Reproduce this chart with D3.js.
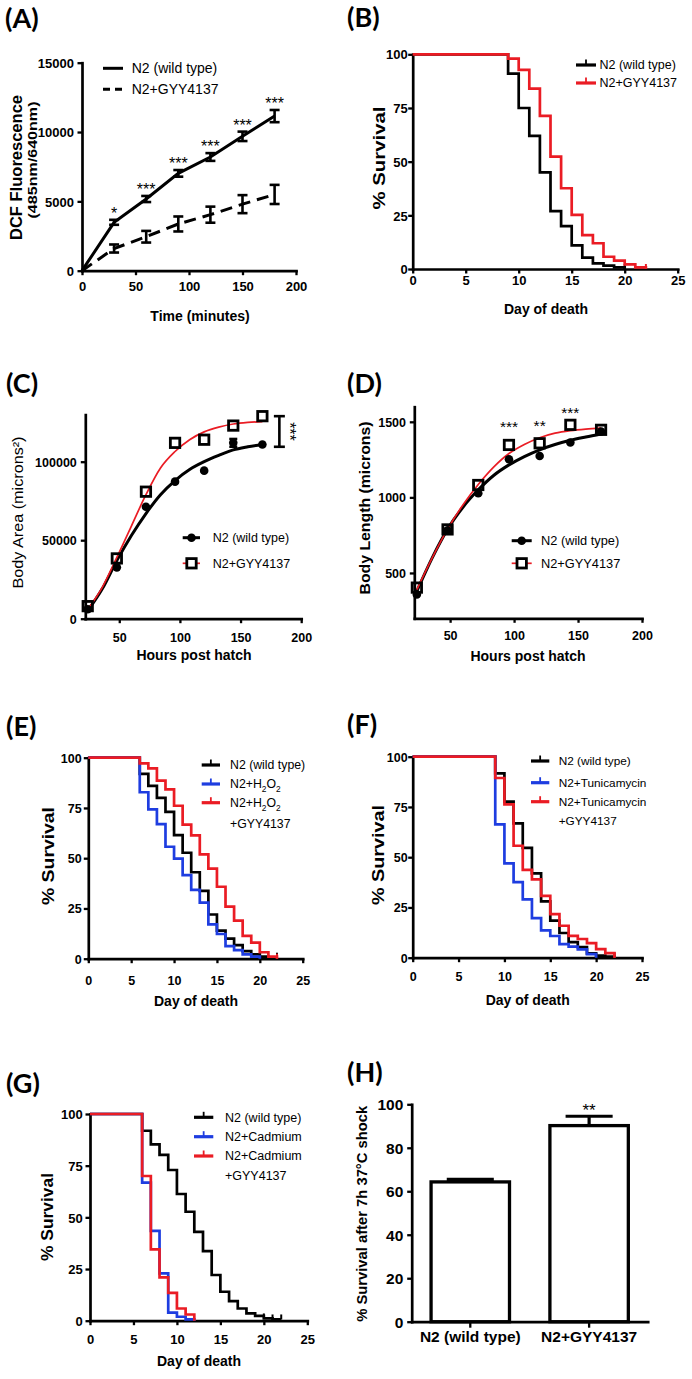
<!DOCTYPE html>
<html><head><meta charset="utf-8">
<script src="https://cdn.jsdelivr.net/npm/d3@7"></script>
<style>body{margin:0;background:#fff;}svg{display:block;}</style>
</head><body>
<script>
// ================= DATA =================
// (A) DCF fluorescence
const timeMinutes = [0,30,60,90,120,150,180];
const dcfN2 = [0,3490,5170,7020,8200,9690,11150];
const dcfN2Err = [0,180,220,240,280,340,440];
const dcfGYY = [0,1600,2450,3370,4040,4800,5500];
const dcfGYYErr = [0,290,420,540,580,650,690];
const dcfStars = ["","*","***","***","***","***","***"];
const dcfXTicks = [0,50,100,150,200];
const dcfYTicks = [0,5000,10000,15000];

// (B) lifespan
const bDaysN2 = [0,9,10,11,12,13,14,15,16,17,18,19,20];
const bSurvN2 = [100,91,75,62,45,27,20,11,5.3,2.6,1.6,0.8,0];
const bDaysGYY = [0,9,10,11,12,13,14,15,16,17,18,19,20,21,22];
const bSurvGYY = [100,98,92.7,84,71.3,52.3,37.6,25.2,15.8,12,5.7,3.9,2.2,0.8,0];
const bCensN2 = [20];
const bCensGYY = [22];

// shared survival axes
const survXTicks = [0,5,10,15,20,25];
const survYTicks = [0,25,50,75,100];

// (C) body area, (D) body length
const hoursPH = [24,48,72,96,120,144,168];
const areaN2 = [6000,32700,71300,87300,94300,112000,111000];
const areaN2Err = [0,0,0,0,0,2500,0];
const areaGYY = [8000,38400,80900,112000,114000,123000,129000];
const fitHours = [24,36,48,60,72,84,96,108,120,132,144,156,168];
const areaFitN2 = [5000,19000,37000,53000,67000,79000,88000,95000,100000,104000,107500,109500,111000];
const areaFitGYY = [6000,20000,39000,59000,79000,96000,106500,114000,119000,122000,124000,125000,125500];
const areaBracket = [109500,129000];
const areaBracketHour = 182;
const areaXTicks = [50,100,150,200];
const areaYTicks = [0,50000,100000];

const lenN2 = [358,783,1027,1252,1274,1363,1436];
const lenGYY = [403,788,1082,1347,1358,1480,1447];
const lenFitN2 = [380,600,790,935,1050,1145,1215,1270,1315,1350,1378,1400,1420];
const lenFitGYY = [390,600,790,950,1085,1200,1290,1350,1395,1425,1442,1452,1458];
const lenStarHours = [96,120,144];
const lenStarVals = [1435,1440,1525];
const lenStars = ["***","**","***"];
const lenXTicks = [50,100,150,200];
const lenYTicks = [500,1000,1500];

// (E) H2O2
const eDaysN2 = [0,6,7,8,9,10,11,12,13,14,15,16,17,18,19,20,21,22];
const eSurvN2 = [100,92,86,80,73,61.5,52.7,43,33.7,22,14,10,6.8,3.8,2.2,1,0.5,0.5];
const eDaysH2O2 = [0,6,7,8,9,10,11,12,13,14,15,16,17,18,19,20];
const eSurvH2O2 = [100,82.8,74.3,67,55.7,49.8,41.6,34.2,27.9,17.1,12.3,6.3,4.3,2.2,1,0];
const eDaysH2O2GYY = [0,6,7,8,9,10,11,12,13,14,15,16,17,18,19,20,21,22];
const eSurvH2O2GYY = [100,97.2,94.7,88.6,84.2,76.1,66.7,61.4,51.9,44.8,35.8,25.9,18.9,11.4,8,3.2,1,0];

// (F) tunicamycin
const fDaysN2 = [0,9,10,11,12,13,14,15,16,17,18,19,20,21,22];
const fSurvN2 = [100,91.7,77.6,66.8,54.6,42,28,18.4,12.3,7.7,5.3,2.2,1,0.5,0];
const fDaysTun = [0,9,10,11,12,13,14,15,16,17,18,19,20];
const fSurvTun = [100,66.3,46.9,37.6,29,19.7,13.6,10.8,6.8,5.5,4.1,1.8,0];
const fDaysTunGYY = [0,9,10,11,12,13,14,15,16,17,18,19,20,21,22];
const fSurvTunGYY = [100,89.4,76.3,55.7,43.7,39,30.8,21.7,15.9,10.9,9.3,7.3,4.3,2.3,0];

// (G) cadmium
const gDaysN2 = [0,6,7,8,9,10,11,12,13,14,15,16,17,18,19,20,21,22];
const gSurvN2 = [100,91.9,85.3,80.2,72.9,61.3,52.7,43,33.7,22.1,14,9.5,5.9,3.5,2.3,1.1,0.6,0.6];
const gDaysCd = [0,6,7,8,9,10,11,12];
const gSurvCd = [100,66.8,43.5,22.9,3.9,1.9,0.6,0];
const gDaysCdGYY = [0,6,7,8,9,10,11,12];
const gSurvCdGYY = [100,70,34.5,21,13.5,5.9,3,0];

// (H) heat shock
const hCategories = ["N2 (wild type)","N2+GYY4137"];
const hValues = [64.3,90.2];
const hErrors = [1.2,4.3];
const hYTicks = [0,20,40,60,80,100];

// ================= DRAWING =================
const FONT = "'Liberation Sans', Arial, Helvetica, sans-serif";
const LFONT = "Lato, 'Open Sans', sans-serif";
const RED = "#ea1c24", BLUE = "#1e3de0", BLACK = "#000";
const AXW = 2.7;

const svg = d3.select("body").append("svg").attr("width",692).attr("height",1379);
svg.append("rect").attr("width",692).attr("height",1379).attr("fill","#fff");

function label(g, s, x, y, o={}) {
  const t = g.append("text").attr("x",x).attr("y",y)
    .style("font-family", o.family||FONT)
    .style("font-size", (o.fs||13)+"px")
    .style("font-weight", o.bold?"bold":"normal")
    .style("fill", o.fill||"#000")
    .attr("text-anchor", o.anchor||"start");
  if (o.dy) t.attr("dy", o.dy);
  if (o.len) t.attr("textLength", o.len).attr("lengthAdjust","spacingAndGlyphs");
  t.text(s);
  return t;
}
function vlabel(g, s, cx, cy, o) {
  const gg = g.append("g").attr("transform", `translate(${cx + 0.32*o.fs},${cy}) rotate(-90)`);
  return label(gg, s, 0, 0, Object.assign({anchor:"middle"}, o));
}
function hTitle(g, s, cx, cy, fs) { return label(g, s, cx, cy + 0.3*fs, {anchor:"middle", fs, bold:true}); }
function panelLetter(s, x, y) { label(svg, s, x, y, {family:LFONT, fs:27, bold:true}); }

function axes(g, x, y, c) {
  const xa = d3.axisBottom(x).tickSize(c.xTick||4.5).tickSizeOuter(0);
  if (c.xTicks) xa.tickValues(c.xTicks).tickFormat(d3.format("d"));
  const gx = g.append("g").attr("transform",`translate(0,${y.range()[0]})`).call(xa);
  gx.selectAll(".tick text").attr("y", c.xDy).attr("dy","0.36em")
    .style("font-family",FONT).style("font-size",(c.fsX||c.fs)+"px").style("font-weight","bold").style("fill","#000");
  const ya = d3.axisLeft(y).tickValues(c.yTicks).tickFormat(d3.format("d")).tickSize(4.5).tickSizeOuter(0);
  const gy = g.append("g").attr("transform",`translate(${x.range()[0]},0)`).call(ya);
  gy.selectAll(".tick text").attr("x", -c.yGap).attr("dy","0.36em")
    .style("font-family",FONT).style("font-size",(c.fsY||c.fs)+"px").style("font-weight","bold").style("fill","#000");
  [gx,gy].forEach(a => {
    a.select(".domain").attr("stroke","#000").attr("stroke-width",AXW).attr("stroke-linecap","square");
    a.selectAll(".tick line").attr("stroke","#000").attr("stroke-width",2.3);
  });
}

function km(g, x, y, series) {
  const line = d3.line().curve(d3.curveStepAfter);
  series.forEach(s => {
    const pts = s.days.map((d,i) => [x(d), y(s.surv[i])]);
    g.append("path").attr("d", line(pts)).attr("fill","none").attr("stroke", s.color).attr("stroke-width",2.7);
    (s.cens||[]).forEach(d => {
      let v = s.surv[0];
      s.days.forEach((dd,i) => { if (dd <= d) v = s.surv[i]; });
      g.append("line").attr("x1",x(d)).attr("x2",x(d)).attr("y1",y(v)).attr("y2",y(v)-5)
        .attr("stroke",s.color).attr("stroke-width",2);
    });
  });
}

function rich(g, parts, x, y, fs) {
  const t = g.append("text").attr("x",x).attr("y",y).attr("dy","0.35em")
    .style("font-family",FONT).style("font-size",fs+"px").style("fill","#000");
  let prevSub = false;
  parts.forEach(p => {
    const ts = t.append("tspan").text(p[0]);
    if (p[1] === "sub") { ts.style("font-size",(fs*0.68)+"px").attr("dy", fs*0.3); prevSub = true; }
    else if (prevSub) { ts.attr("dy", -fs*0.3); prevSub = false; }
  });
  return t;
}

function kmLegend(g, x1, x2, tx, ys, colors, texts, fs) {
  colors.forEach((c,i) => {
    g.append("line").attr("x1",x1).attr("x2",x2).attr("y1",ys[i]).attr("y2",ys[i]).attr("stroke",c).attr("stroke-width",3.2);
    g.append("line").attr("x1",(x1+x2)/2).attr("x2",(x1+x2)/2).attr("y1",ys[i]).attr("y2",ys[i]-5.5).attr("stroke",c).attr("stroke-width",1.8);
  });
  texts.forEach((t,i) => {
    if (Array.isArray(t)) rich(g, t, tx, ys[i], fs);
    else label(g, t, tx, ys[i], {fs, dy:"0.35em"});
  });
}

// ---------- (A) ----------
panelLetter("(A)", 5, 28);
{
  const g = svg.append("g");
  const x = d3.scaleLinear([0,200],[82,296]);
  const y = d3.scaleLinear([0,15000],[270.7,62.7]);
  axes(g, x, y, {xTicks:dcfXTicks, yTicks:dcfYTicks, fs:13, xDy:16, yGap:8});
  const line = d3.line().x((d,i) => x(timeMinutes[i])).y(d => y(d));
  g.append("path").datum(dcfGYY).attr("d",line).attr("fill","none").attr("stroke","#000").attr("stroke-width",3).attr("stroke-dasharray","12,7");
  g.append("path").datum(dcfN2).attr("d",line).attr("fill","none").attr("stroke","#000").attr("stroke-width",3);
  [[dcfN2,dcfN2Err],[dcfGYY,dcfGYYErr]].forEach(([v,e]) => {
    v.forEach((d,i) => {
      if (!e[i]) return;
      const xx = x(timeMinutes[i]);
      g.append("line").attr("x1",xx).attr("x2",xx).attr("y1",y(d-e[i])).attr("y2",y(d+e[i])).attr("stroke","#000").attr("stroke-width",2.6);
      [d-e[i], d+e[i]].forEach(b => g.append("line").attr("x1",xx-5).attr("x2",xx+5).attr("y1",y(b)).attr("y2",y(b)).attr("stroke","#000").attr("stroke-width",2.6));
    });
  });
  dcfStars.forEach((s,i) => {
    if (!s) return;
    label(g, s, x(timeMinutes[i]), y(dcfN2[i]+dcfN2Err[i]) - 1, {fs:16, anchor:"middle"});
  });
  vlabel(g, "DCF Fluorescence", 16.7, 167.5, {fs:16, bold:true, len:145});
  vlabel(g, "(485nm/640nm)", 33, 160, {fs:13, bold:true, len:117});
  hTitle(g, "Time (minutes)", 200, 317, 14);
  g.append("line").attr("x1",103).attr("x2",123).attr("y1",68.3).attr("y2",68.3).attr("stroke","#000").attr("stroke-width",3);
  g.append("line").attr("x1",103).attr("x2",123).attr("y1",89.3).attr("y2",89.3).attr("stroke","#000").attr("stroke-width",3).attr("stroke-dasharray","7,5");
  label(g, "N2 (wild type)", 131.7, 68.3, {fs:14, dy:"0.35em"});
  label(g, "N2+GYY4137", 131.7, 89.3, {fs:14, dy:"0.35em"});
}

// ---------- (B) ----------
panelLetter("(B)", 347, 27);
{
  const g = svg.append("g");
  const x = d3.scaleLinear([0,25],[412.7,677.7]);
  const y = d3.scaleLinear([0,100],[269,54.3]);
  axes(g, x, y, {xTicks:survXTicks, yTicks:survYTicks, fs:13, xDy:11.5, yGap:5});
  km(g, x, y, [
    {days:bDaysN2, surv:bSurvN2, color:BLACK, cens:bCensN2},
    {days:bDaysGYY, surv:bSurvGYY, color:RED, cens:bCensGYY}
  ]);
  vlabel(g, "% Survival", 379.3, 158, {fs:17, bold:true, len:103});
  hTitle(g, "Day of death", 546, 310, 14);
  kmLegend(g, 576, 596, 599.5, [65,83], [BLACK,RED], ["N2 (wild type)","N2+GYY4137"], 12.5);
}

// ---------- (C) ----------
panelLetter("(C)", 6, 393);
{
  const g = svg.append("g");
  const x = d3.scaleLinear([22,200],[85.3,301.2]);
  const y = d3.scaleLinear([0,130000],[618.7,414.6]);
  axes(g, x, y, {xTicks:areaXTicks, yTicks:areaYTicks, fs:12.5, xDy:18.5, yGap:8.5});
  const fit = d3.line().curve(d3.curveMonotoneX).x((d,i) => x(fitHours[i])).y(d => y(d));
  g.append("path").datum(areaFitN2).attr("d",fit).attr("fill","none").attr("stroke","#000").attr("stroke-width",3);
  g.append("path").datum(areaFitGYY).attr("d",fit).attr("fill","none").attr("stroke",RED).attr("stroke-width",1.7);
  areaN2.forEach((v,i) => {
    if (areaN2Err[i]) {
      const xx = x(hoursPH[i]);
      g.append("line").attr("x1",xx).attr("x2",xx).attr("y1",y(v-areaN2Err[i])).attr("y2",y(v+areaN2Err[i])).attr("stroke","#000").attr("stroke-width",2.5);
      [v-areaN2Err[i], v+areaN2Err[i]].forEach(b => g.append("line").attr("x1",xx-4).attr("x2",xx+4).attr("y1",y(b)).attr("y2",y(b)).attr("stroke","#000").attr("stroke-width",2.5));
    }
    g.append("circle").attr("cx",x(hoursPH[i])).attr("cy",y(v)).attr("r",4.3).attr("fill","#000");
  });
  areaGYY.forEach((v,i) => {
    g.append("rect").attr("x",x(hoursPH[i])-4.7).attr("y",y(v)-4.7).attr("width",9.4).attr("height",9.4)
      .attr("fill","none").attr("stroke","#000").attr("stroke-width",2.8);
  });
  const bx = x(areaBracketHour);
  g.append("line").attr("x1",bx).attr("x2",bx).attr("y1",y(areaBracket[0])).attr("y2",y(areaBracket[1])).attr("stroke","#000").attr("stroke-width",2.6);
  areaBracket.forEach(b => g.append("line").attr("x1",bx-5.5).attr("x2",bx+5.5).attr("y1",y(b)).attr("y2",y(b)).attr("stroke","#000").attr("stroke-width",2.6));
  const sg = g.append("g").attr("transform",`translate(${bx+5},${(y(areaBracket[0])+y(areaBracket[1]))/2}) rotate(90)`);
  label(sg, "***", 0, 0, {fs:16, anchor:"middle"});
  vlabel(g, "Body Area  (microns²)", 18.3, 512.5, {fs:15, len:152});
  hTitle(g, "Hours post hatch", 194, 656, 14);
  g.append("line").attr("x1",182.7).attr("x2",200).attr("y1",537.7).attr("y2",537.7).attr("stroke","#000").attr("stroke-width",3);
  g.append("circle").attr("cx",191.5).attr("cy",537.7).attr("r",4.3).attr("fill","#000");
  g.append("line").attr("x1",182.7).attr("x2",200).attr("y1",563.3).attr("y2",563.3).attr("stroke",RED).attr("stroke-width",1.7);
  g.append("rect").attr("x",186.8).attr("y",558.6).attr("width",9.4).attr("height",9.4).attr("fill","#fff").attr("stroke","#000").attr("stroke-width",2.8);
  label(g, "N2 (wild type)", 212.7, 537.7, {fs:12.5, dy:"0.35em"});
  label(g, "N2+GYY4137", 212.7, 563.3, {fs:12.5, dy:"0.35em"});
}

// ---------- (D) ----------
panelLetter("(D)", 347, 393);
{
  const g = svg.append("g");
  const x = d3.scaleLinear([22,200],[414.3,642]);
  const y = d3.scaleLinear([200,1600],[618.3,406.7]);
  axes(g, x, y, {xTicks:lenXTicks, yTicks:lenYTicks, fs:12.5, xDy:17.5, yGap:8.3});
  const fit = d3.line().curve(d3.curveMonotoneX).x((d,i) => x(fitHours[i])).y(d => y(d));
  g.append("path").datum(lenFitN2).attr("d",fit).attr("fill","none").attr("stroke","#000").attr("stroke-width",3);
  g.append("path").datum(lenFitGYY).attr("d",fit).attr("fill","none").attr("stroke",RED).attr("stroke-width",1.7);
  lenN2.forEach((v,i) => g.append("circle").attr("cx",x(hoursPH[i])).attr("cy",y(v)).attr("r",4.3).attr("fill","#000"));
  lenGYY.forEach((v,i) => g.append("rect").attr("x",x(hoursPH[i])-4.7).attr("y",y(v)-4.7).attr("width",9.4).attr("height",9.4)
      .attr("fill","none").attr("stroke","#000").attr("stroke-width",2.8));
  lenStars.forEach((s,i) => label(g, s, x(lenStarHours[i]), y(lenStarVals[i]), {fs:15.5, anchor:"middle"}));
  vlabel(g, "Body Length (microns)", 365, 508, {fs:15, bold:true, len:173});
  hTitle(g, "Hours post hatch", 528, 656.7, 14);
  g.append("line").attr("x1",511.7).attr("x2",531.7).attr("y1",540.7).attr("y2",540.7).attr("stroke","#000").attr("stroke-width",3);
  g.append("circle").attr("cx",521.7).attr("cy",540.7).attr("r",4.3).attr("fill","#000");
  g.append("line").attr("x1",511.7).attr("x2",531.7).attr("y1",563.3).attr("y2",563.3).attr("stroke",RED).attr("stroke-width",1.7);
  g.append("rect").attr("x",517).attr("y",558.6).attr("width",9.4).attr("height",9.4).attr("fill","#fff").attr("stroke","#000").attr("stroke-width",2.8);
  label(g, "N2 (wild type)", 541, 540.7, {fs:12.8, dy:"0.35em"});
  label(g, "N2+GYY4137", 541, 563.3, {fs:12.8, dy:"0.35em"});
}

// ---------- (E) ----------
panelLetter("(E)", 6, 736);
{
  const g = svg.append("g");
  const x = d3.scaleLinear([0,25],[88.3,302.7]);
  const y = d3.scaleLinear([0,100],[958.7,757.7]);
  axes(g, x, y, {xTicks:survXTicks, yTicks:survYTicks, fs:12.5, xDy:21.5, yGap:6.6});
  km(g, x, y, [
    {days:eDaysN2, surv:eSurvN2, color:BLACK, cens:[22]},
    {days:eDaysH2O2, surv:eSurvH2O2, color:BLUE, cens:[]},
    {days:eDaysH2O2GYY, surv:eSurvH2O2GYY, color:RED, cens:[22]}
  ]);
  vlabel(g, "% Survival", 48.3, 856, {fs:17, bold:true, len:98});
  hTitle(g, "Day of death", 196, 1002, 14);
  kmLegend(g, 201.7, 220, 230, [765,784,802.7], [BLACK,BLUE,RED],
    ["N2 (wild type)", [["N2+H"],["2","sub"],["O"],["2","sub"]], [["N2+H"],["2","sub"],["O"],["2","sub"]]], 12.3);
  label(g, "+GYY4137", 230, 824, {fs:12.3, dy:"0.35em"});
}

// ---------- (F) ----------
panelLetter("(F)", 347, 734);
{
  const g = svg.append("g");
  const x = d3.scaleLinear([0,25],[412.7,642]);
  const y = d3.scaleLinear([0,100],[957.7,756.7]);
  axes(g, x, y, {xTicks:survXTicks, yTicks:survYTicks, fs:12.5, xDy:19, yGap:5});
  km(g, x, y, [
    {days:fDaysN2, surv:fSurvN2, color:BLACK, cens:[22]},
    {days:fDaysTun, surv:fSurvTun, color:BLUE, cens:[]},
    {days:fDaysTunGYY, surv:fSurvTunGYY, color:RED, cens:[22]}
  ]);
  vlabel(g, "% Survival", 378.3, 855, {fs:17, bold:true, len:100});
  hTitle(g, "Day of death", 527.7, 1001, 14);
  kmLegend(g, 531, 549.3, 558.7, [761,782.7,801.7], [BLACK,BLUE,RED],
    ["N2 (wild type)","N2+Tunicamycin","N2+Tunicamycin"], 11.8);
  label(g, "+GYY4137", 558.7, 821, {fs:11.8, dy:"0.35em"});
}

// ---------- (G) ----------
panelLetter("(G)", 6, 1093);
{
  const g = svg.append("g");
  const x = d3.scaleLinear([0,25],[90,307.3]);
  const y = d3.scaleLinear([0,100],[1320.7,1114]);
  axes(g, x, y, {xTicks:survXTicks, yTicks:survYTicks, fs:13, xDy:18.6, yGap:7.3});
  km(g, x, y, [
    {days:gDaysN2, surv:gSurvN2, color:BLACK, cens:[20,21,22]},
    {days:gDaysCd, surv:gSurvCd, color:BLUE, cens:[]},
    {days:gDaysCdGYY, surv:gSurvCdGYY, color:RED, cens:[]}
  ]);
  vlabel(g, "% Survival", 47.3, 1217, {fs:17, bold:true, len:88});
  hTitle(g, "Day of death", 199, 1361.7, 14);
  kmLegend(g, 194, 213.3, 225, [1117.3,1136.7,1156], [BLACK,BLUE,RED],
    ["N2 (wild type)","N2+Cadmium","N2+Cadmium"], 12.5);
  label(g, "+GYY4137", 225, 1176, {fs:12.5, dy:"0.35em"});
}

// ---------- (H) ----------
panelLetter("(H)", 347, 1082);
{
  const g = svg.append("g");
  const x = d3.scaleBand(hCategories, [411.7,647.7]).paddingInner(0.34).paddingOuter(0.163);
  const y = d3.scaleLinear([0,100],[1321.7,1104.3]);
  axes(g, x, y, {yTicks:hYTicks, fsX:15.5, fsY:15.5, xDy:15, yGap:8.4, xTick:6});
  const bw = x.bandwidth();
  hValues.forEach((v,i) => {
    const x0 = x(hCategories[i]), cx = x0 + bw/2;
    const top = y(v + hErrors[i]);
    g.append("line").attr("x1",cx).attr("x2",cx).attr("y1",y(v)).attr("y2",top).attr("stroke","#000").attr("stroke-width",3.2);
    g.append("line").attr("x1",cx-bw*0.3).attr("x2",cx+bw*0.3).attr("y1",top).attr("y2",top).attr("stroke","#000").attr("stroke-width",3.2);
    g.append("rect").attr("x",x0).attr("y",y(v)).attr("width",bw).attr("height",y(0)-y(v))
      .attr("fill","#fff").attr("stroke","#000").attr("stroke-width",3.3);
  });
  label(g, "**", x(hCategories[1]) + bw/2, y(hValues[1]+hErrors[1]), {fs:17, anchor:"middle"});
  vlabel(g, "% Survival after 7h 37°C shock", 362.7, 1213.8, {fs:14.5, bold:true, len:216});
}
</script>
</body></html>
